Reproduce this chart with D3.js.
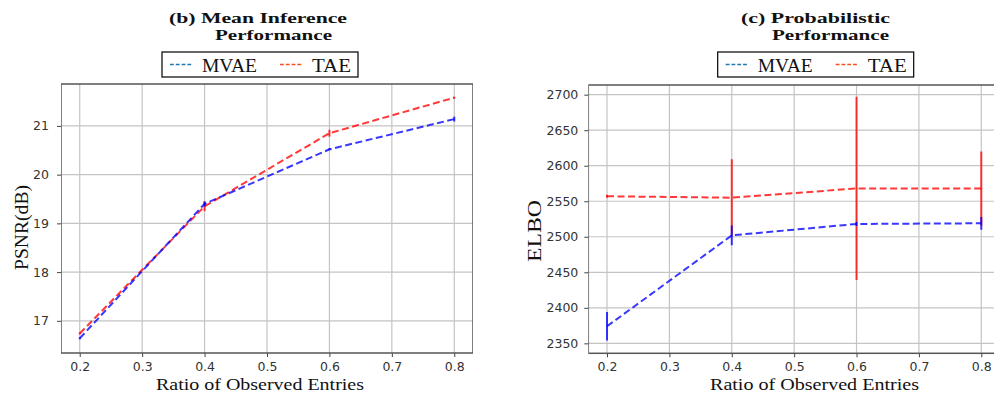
<!DOCTYPE html>
<html><head><meta charset="utf-8">
<script src="https://cdn.jsdelivr.net/npm/d3@7"></script>
<style>body{margin:0;background:#fff}svg{display:block}</style>
</head><body>
<svg id="c" width="994" height="397"></svg>
<script>
const ratios = [0.2, 0.4, 0.6, 0.8];
const xTicks = [0.2, 0.3, 0.4, 0.5, 0.6, 0.7, 0.8];
const seriesNames = ["MVAE", "TAE"];

const psnrMVAE = [16.64, 19.40, 20.52, 21.14];
const psnrMVAEErr = [0.02, 0.05, 0.02, 0.05];
const psnrTAE = [16.74, 19.35, 20.85, 21.58];
const psnrTAEErr = [0.02, 0.10, 0.07, 0.02];
const psnrTicks = [17, 18, 19, 20, 21];

const elboMVAE = [2374, 2502, 2518, 2519];
const elboMVAEErr = [20, 14, 3, 9];
const elboTAE = [2557, 2555, 2568, 2568];
const elboTAEErr = [2, 54, 129, 52];
const elboTicks = [2350, 2400, 2450, 2500, 2550, 2600, 2650, 2700];

const svg = d3.select("#c");
const SERIF = "Liberation Serif, DejaVu Serif, Times New Roman, serif";
const SANS = "DejaVu Sans, sans-serif";
const lineCol = {MVAE: "rgba(0,0,255,0.78)", TAE: "rgba(255,0,0,0.78)"};
const legCol = {MVAE: "#1f77b4", TAE: "#f4511e"};

function serifText(sel, size, bold) {
  return sel.style("font-family", SERIF).style("font-size", size + "px")
    .style("font-weight", bold ? "bold" : "normal").attr("fill", "#111");
}

function panel(cfg) {
  const g = svg.append("g");
  const clipId = "clip" + cfg.id;
  svg.append("clipPath").attr("id", clipId).append("rect")
    .attr("x", cfg.x0).attr("y", cfg.y0 - 2).attr("width", cfg.x1 - cfg.x0).attr("height", cfg.y1 - cfg.y0 + 4);
  const x = d3.scaleLinear().domain([0.17, 0.83]).range([cfg.x0, cfg.x1]);
  const y = d3.scaleLinear().domain(cfg.yDomain).range([cfg.y1, cfg.y0]);

  // grid
  const grid = g.append("g").attr("clip-path", `url(#${clipId})`);
  grid.selectAll("line.gx").data(xTicks).join("line")
    .attr("x1", d => x(d)).attr("x2", d => x(d)).attr("y1", cfg.y0).attr("y2", cfg.y1)
    .attr("stroke", "#c4c4c4").attr("stroke-width", 1.2);
  grid.selectAll("line.gy").data(cfg.yTicks).join("line")
    .attr("y1", d => y(d)).attr("y2", d => y(d)).attr("x1", cfg.x0).attr("x2", cfg.x1)
    .attr("stroke", "#c4c4c4").attr("stroke-width", 1.2);

  // axes
  const xa = g.append("g").attr("transform", `translate(0,${cfg.y1})`)
    .call(d3.axisBottom(x).tickValues(xTicks).tickFormat(d3.format(".1f")).tickSize(4).tickPadding(5));
  const ya = g.append("g").attr("transform", `translate(${cfg.x0},0)`)
    .call(d3.axisLeft(y).tickValues(cfg.yTicks).tickFormat(d3.format("d")).tickSize(4).tickPadding(cfg.yPad));
  [xa, ya].forEach(a => {
    a.select(".domain").remove();
    a.selectAll("line").attr("stroke", "#444").attr("stroke-width", 1);
    a.selectAll("text").style("font-family", SANS).style("font-size", "12.5px").attr("fill", "#333");
  });

  // spines
  const sp = g.append("g").attr("clip-path", `url(#${clipId})`);
  sp.append("rect").attr("x", cfg.x0).attr("y", cfg.y0).attr("width", cfg.x1 - cfg.x0).attr("height", cfg.y1 - cfg.y0)
    .attr("fill", "none").attr("stroke", "#555").attr("stroke-width", 1.5);

  // data
  const plot = g.append("g").attr("clip-path", `url(#${clipId})`);
  const series = [
    {name: "TAE", v: cfg.tae, e: cfg.taeErr},
    {name: "MVAE", v: cfg.mvae, e: cfg.mvaeErr}
  ];
  const line = d3.line().x((d, i) => x(ratios[i])).y(d => y(d));
  series.forEach(s => {
    plot.append("path").datum(s.v).attr("d", line).attr("fill", "none")
      .attr("stroke", lineCol[s.name]).attr("stroke-width", 2).attr("stroke-dasharray", "7,3.5");
    plot.selectAll(null).data(s.v).join("line")
      .attr("x1", (d, i) => x(ratios[i])).attr("x2", (d, i) => x(ratios[i]))
      .attr("y1", (d, i) => y(d - s.e[i])).attr("y2", (d, i) => y(d + s.e[i]))
      .attr("stroke", lineCol[s.name]).attr("stroke-width", 2);
  });

  // axis labels
  serifText(g.append("text"), 17, false)
    .attr("x", (cfg.xl0 + cfg.xl1) / 2).attr("y", 389.5).attr("text-anchor", "middle")
    .attr("textLength", cfg.xl1 - cfg.xl0).attr("lengthAdjust", "spacingAndGlyphs")
    .text("Ratio of Observed Entries");
  serifText(g.append("text"), 18, false)
    .attr("transform", `translate(${cfg.ylX},${cfg.ylY}) rotate(-90)`).attr("text-anchor", "middle")
    .attr("textLength", cfg.ylLen).attr("lengthAdjust", "spacingAndGlyphs")
    .text(cfg.yLabel);

  // title (two lines)
  cfg.title.forEach((t, i) => {
    serifText(g.append("text"), 15, true).attr("text-anchor", "middle")
      .attr("x", (t.a + t.b) / 2).attr("y", i === 0 ? 22.5 : 39.5)
      .attr("textLength", t.b - t.a).attr("lengthAdjust", "spacingAndGlyphs").text(t.s);
  });

  // legend
  const L = cfg.leg;
  g.append("rect").attr("x", L.x).attr("y", 52).attr("width", 196).attr("height", 25)
    .attr("fill", "#fff").attr("stroke", "#000").attr("stroke-width", 1.2);
  const items = [
    {name: "MVAE", l0: 8, l1: 31, t0: 40, t1: 95},
    {name: "TAE", l0: 118, l1: 141, t0: 150, t1: 189}
  ];
  items.forEach(it => {
    g.append("line").attr("x1", L.x + it.l0).attr("x2", L.x + it.l1).attr("y1", 64.5).attr("y2", 64.5)
      .attr("stroke", legCol[it.name]).attr("stroke-width", 1.4).attr("stroke-dasharray", "3.8,2");
    serifText(g.append("text"), 19.5, false).attr("x", L.x + it.t0).attr("y", 71.5)
      .attr("textLength", it.t1 - it.t0).attr("lengthAdjust", "spacingAndGlyphs").text(it.name);
  });
}

panel({
  id: "b", x0: 61, x1: 473, y0: 84, y1: 353, yDomain: [16.34, 21.86], yTicks: psnrTicks, yPad: 8,
  mvae: psnrMVAE, mvaeErr: psnrMVAEErr, tae: psnrTAE, taeErr: psnrTAEErr,
  xl0: 156, xl1: 364, yLabel: "PSNR(dB)", ylX: 28, ylY: 227.5, ylLen: 85,
  title: [{s: "(b) Mean Inference", a: 169, b: 347}, {s: "Performance", a: 215, b: 332}],
  leg: {x: 162}
});
panel({
  id: "c", x0: 588.3, x1: 1000, y0: 85, y1: 353.3, yDomain: [2336, 2713.6], yTicks: elboTicks, yPad: 6,
  mvae: elboMVAE, mvaeErr: elboMVAEErr, tae: elboTAE, taeErr: elboTAEErr,
  xl0: 710, xl1: 919, yLabel: "ELBO", ylX: 541, ylY: 231, ylLen: 62,
  title: [{s: "(c) Probabilistic", a: 741, b: 890}, {s: "Performance", a: 772, b: 889}],
  leg: {x: 717.7}
});
</script>
</body></html>
